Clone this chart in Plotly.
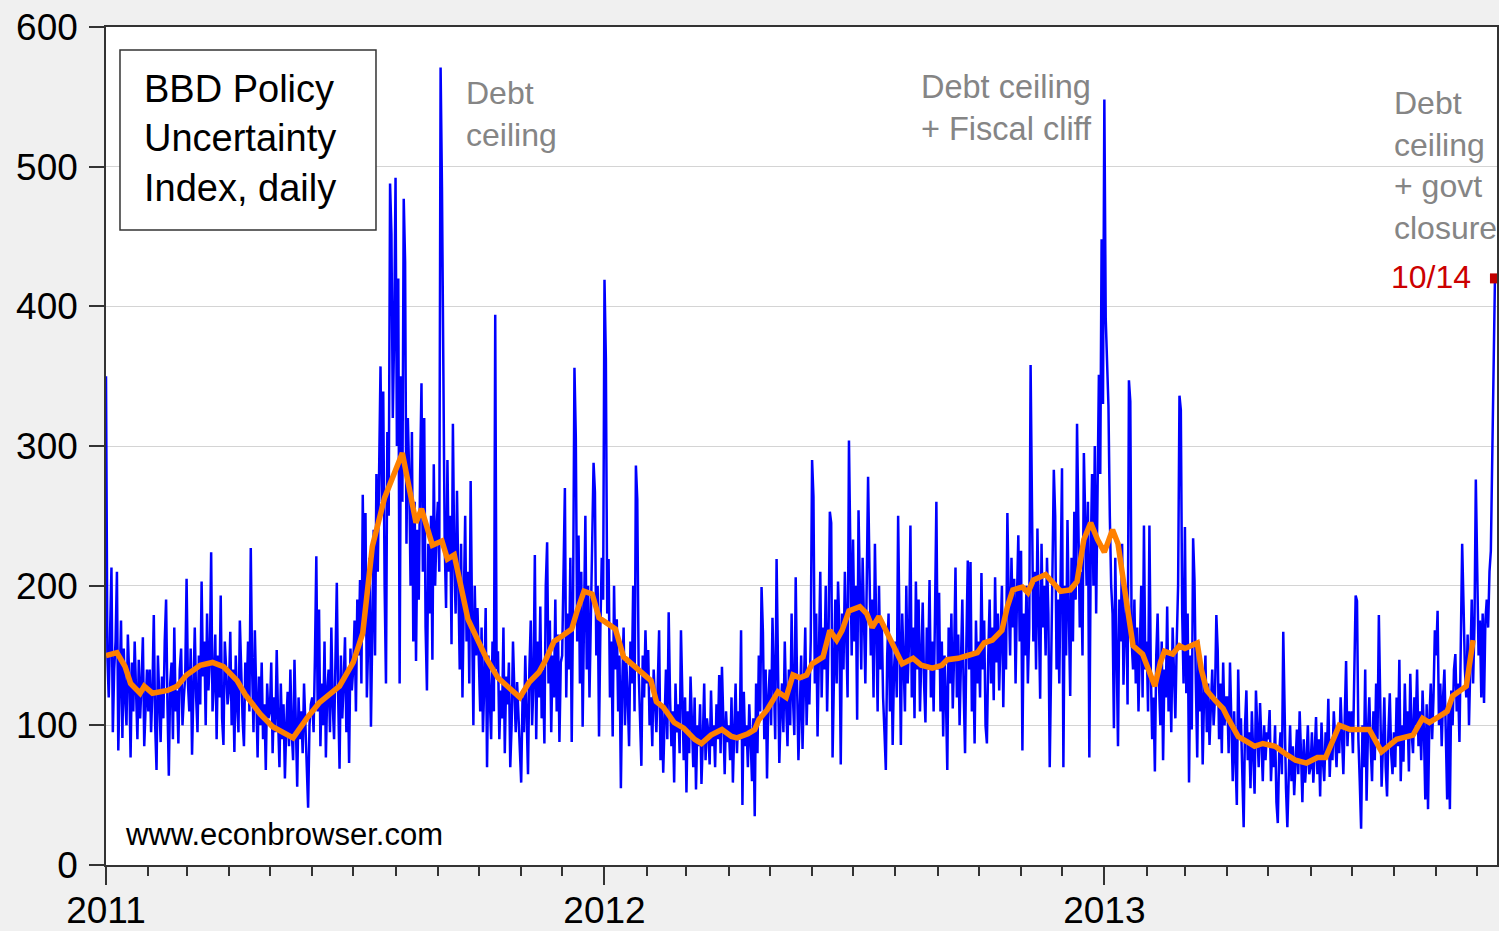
import pandas as pd
import plotly.graph_objects as go

# ---- Daily BBD policy uncertainty index ----
jan11 = [350, 150, 120, 180, 213, 95, 140, 160, 210, 82, 130, 175, 91, 155, 120, 100, 165, 135, 77, 145, 110, 160, 125, 90, 147, 105, 130, 163, 85, 120, 140]
feb11 = [110, 140, 95, 125, 179, 100, 68, 150, 120, 88, 135, 105, 160, 190, 115, 64, 130, 145, 90, 170, 110, 125, 87, 140, 155, 100, 120, 135]
mar11 = [205, 130, 110, 155, 79, 140, 170, 120, 95, 150, 115, 203, 135, 160, 100, 180, 125, 145, 224, 110, 130, 165, 90, 150, 120, 193, 105, 86, 160, 140, 115]
apr11 = [125, 167, 100, 140, 81, 150, 115, 95, 175, 130, 105, 85, 145, 120, 160, 110, 227, 140, 95, 168, 120, 77, 135, 100, 145, 90, 115, 68, 130, 105]
may11 = [110, 145, 80, 120, 95, 154, 105, 70, 130, 90, 115, 62, 100, 124, 85, 140, 95, 75, 147, 105, 56, 120, 90, 110, 80, 130, 95, 65, 41, 100, 115]
jun11 = [120, 95, 150, 221, 110, 183, 85, 130, 100, 160, 77, 125, 140, 95, 170, 115, 90, 135, 202, 120, 69, 150, 105, 130, 163, 95, 140, 73, 155, 125]
jul11 = [140, 175, 110, 190, 150, 204, 130, 265, 180, 252, 120, 160, 220, 99, 195, 240, 150, 280, 210, 302, 357, 260, 339, 200, 130, 310, 250, 488, 452, 320, 380]
aug11 = [492, 300, 420, 130, 350, 260, 477, 432, 230, 320, 280, 200, 310, 160, 260, 146, 240, 190, 280, 345, 210, 320, 170, 125, 230, 180, 250, 147, 287, 200, 240]
sep11 = [260, 210, 571, 485, 318, 230, 184, 290, 210, 250, 158, 316, 220, 180, 268, 200, 140, 230, 120, 190, 250, 160, 210, 130, 275, 180, 100, 200, 150, 184]
oct11 = [146, 110, 170, 95, 130, 184, 70, 150, 120, 90, 160, 110, 394, 140, 153, 90, 125, 105, 170, 80, 135, 115, 145, 70, 100, 160, 125, 95, 131, 110, 85]
nov11 = [59, 120, 95, 150, 110, 65, 140, 175, 100, 130, 222, 90, 160, 120, 185, 105, 140, 87, 200, 231, 130, 175, 95, 150, 120, 190, 110, 165, 88, 145]
dec11 = [150, 200, 270, 120, 180, 140, 220, 88, 190, 356, 306, 160, 236, 130, 210, 99, 175, 250, 140, 200, 120, 180, 230, 288, 267, 150, 200, 92, 170, 220, 190]
jan12 = [419, 363, 180, 219, 120, 160, 92, 200, 140, 176, 110, 150, 55, 130, 170, 100, 145, 120, 85, 160, 130, 200, 110, 286, 262, 140, 95, 71, 150, 120, 168]
feb12 = [130, 154, 100, 120, 85, 140, 110, 95, 130, 168, 75, 115, 66, 100, 140, 90, 181, 120, 85, 110, 59, 130, 95, 115, 80, 168, 105, 75, 120]
mar12 = [52, 110, 80, 135, 95, 70, 120, 54, 100, 85, 115, 58, 90, 130, 75, 105, 95, 72, 125, 85, 100, 70, 115, 90, 136, 80, 142, 95, 65, 110, 88]
apr12 = [100, 75, 120, 59, 95, 130, 80, 110, 90, 168, 43, 124, 85, 100, 70, 115, 90, 60, 105, 35, 130, 80, 150, 110, 199, 167, 90, 140, 62, 120]
may12 = [140, 100, 177, 120, 90, 219, 150, 73, 110, 130, 95, 160, 115, 85, 140, 100, 180, 120, 93, 206, 130, 75, 110, 150, 83, 125, 170, 100, 140, 115, 160]
jun12 = [290, 264, 130, 180, 92, 150, 210, 120, 170, 140, 200, 110, 160, 253, 245, 77, 150, 190, 130, 203, 170, 72, 180, 140, 210, 160, 120, 304, 230, 150]
jul12 = [233, 160, 200, 104, 254, 180, 140, 220, 170, 130, 200, 278, 213, 150, 190, 120, 230, 160, 110, 200, 140, 175, 120, 95, 68, 150, 180, 110, 160, 86, 140]
aug12 = [160, 120, 250, 140, 86, 180, 150, 110, 200, 130, 160, 243, 120, 170, 105, 203, 140, 190, 110, 150, 188, 130, 102, 170, 140, 204, 120, 160, 110, 180, 260]
sep12 = [140, 195, 110, 160, 92, 150, 120, 68, 170, 130, 180, 112, 150, 213, 120, 165, 100, 145, 190, 125, 80, 160, 218, 140, 217, 110, 150, 87, 175, 130]
oct12 = [160, 120, 209, 140, 175, 100, 87, 150, 190, 130, 170, 118, 206, 145, 180, 125, 160, 200, 113, 175, 140, 252, 190, 150, 220, 170, 205, 130, 190, 236, 160]
nov12 = [225, 82, 180, 150, 200, 130, 170, 358, 278, 160, 210, 140, 241, 190, 119, 230, 170, 200, 150, 220, 180, 70, 160, 210, 283, 250, 140, 190, 130, 200]
dec12 = [284, 70, 200, 150, 247, 180, 121, 220, 160, 253, 190, 316, 230, 170, 210, 150, 295, 240, 200, 260, 77, 220, 280, 200, 300, 180, 250, 351, 280, 448, 330]
jan13 = [548, 391, 365, 329, 250, 200, 180, 98, 220, 150, 85, 190, 160, 230, 129, 170, 200, 115, 347, 332, 160, 140, 190, 130, 170, 110, 150, 200, 120, 243, 140]
feb13 = [160, 110, 243, 140, 90, 120, 67, 150, 180, 130, 100, 160, 75, 140, 120, 185, 110, 150, 95, 170, 130, 105, 160, 200, 336, 326, 180, 130]
mar13 = [242, 123, 180, 59, 150, 97, 234, 204, 130, 77, 160, 110, 140, 72, 120, 150, 95, 130, 86, 110, 140, 100, 120, 179, 154, 90, 130, 80, 145, 100, 120]
apr13 = [120, 80, 145, 95, 60, 110, 70, 43, 140, 90, 105, 65, 27, 100, 125, 75, 95, 55, 110, 80, 51, 125, 90, 70, 116, 85, 60, 100, 75, 95]
may13 = [90, 111, 60, 85, 70, 100, 45, 30, 80, 95, 65, 167, 90, 55, 27, 75, 100, 60, 85, 50, 70, 97, 65, 110, 80, 45, 90, 59, 75, 100, 65]
jun13 = [70, 95, 59, 80, 106, 65, 90, 49, 102, 75, 60, 95, 80, 119, 63, 90, 75, 110, 85, 70, 100, 80, 120, 90, 65, 105, 146, 85, 110, 95]
jul13 = [110, 80, 130, 193, 189, 90, 60, 26, 100, 70, 140, 46, 95, 120, 85, 60, 110, 75, 130, 90, 179, 100, 56, 85, 120, 70, 49, 95, 123, 80, 65]
aug13 = [95, 70, 120, 85, 147, 60, 100, 74, 130, 90, 110, 67, 137, 95, 80, 120, 100, 140, 85, 110, 75, 125, 95, 47, 115, 40, 105, 130, 90, 120, 168]
sep13 = [150, 182, 100, 130, 85, 120, 140, 95, 47, 110, 40, 125, 100, 140, 151, 110, 130, 88, 160, 230, 186, 140, 120, 165, 100, 150, 190, 130, 172, 276]
oct13 = [200, 150, 175, 120, 180, 116, 175, 190, 170, 210, 225, 300, 347, 420]

month_starts = ["2011-01", "2011-02", "2011-03", "2011-04", "2011-05", "2011-06", "2011-07", "2011-08",
                "2011-09", "2011-10", "2011-11", "2011-12", "2012-01", "2012-02", "2012-03", "2012-04",
                "2012-05", "2012-06", "2012-07", "2012-08", "2012-09", "2012-10", "2012-11", "2012-12",
                "2013-01", "2013-02", "2013-03", "2013-04", "2013-05", "2013-06", "2013-07", "2013-08",
                "2013-09", "2013-10"]
month_values = [jan11, feb11, mar11, apr11, may11, jun11, jul11, aug11, sep11, oct11, nov11, dec11,
                jan12, feb12, mar12, apr12, may12, jun12, jul12, aug12, sep12, oct12, nov12, dec12,
                jan13, feb13, mar13, apr13, may13, jun13, jul13, aug13, sep13, oct13]

# ---- smoothed (moving-average) line ----
orange_dates = [
    "2011-01-01", "2011-01-09", "2011-01-15", "2011-01-19", "2011-01-26", "2011-01-29", "2011-02-04",
    "2011-02-15", "2011-02-22", "2011-03-01", "2011-03-11", "2011-03-20", "2011-03-28", "2011-04-07",
    "2011-04-13", "2011-04-24", "2011-05-03", "2011-05-18", "2011-05-28", "2011-06-06", "2011-06-21",
    "2011-07-01", "2011-07-08", "2011-07-15", "2011-07-24", "2011-08-06", "2011-08-16", "2011-08-20",
    "2011-08-28", "2011-09-04", "2011-09-08", "2011-09-13", "2011-09-23", "2011-10-07", "2011-10-15",
    "2011-10-27", "2011-10-31", "2011-11-07", "2011-11-14", "2011-11-19", "2011-11-25", "2011-12-01",
    "2011-12-08", "2011-12-12", "2011-12-17", "2011-12-23", "2011-12-28",
    "2012-01-03", "2012-01-09", "2012-01-15", "2012-01-24", "2012-01-30", "2012-02-04", "2012-02-08",
    "2012-02-13", "2012-02-21", "2012-02-28", "2012-03-07", "2012-03-12", "2012-03-19", "2012-03-27",
    "2012-04-03", "2012-04-07", "2012-04-15", "2012-04-20", "2012-04-23", "2012-04-29", "2012-05-07",
    "2012-05-13", "2012-05-18", "2012-05-23", "2012-05-28", "2012-06-01", "2012-06-09", "2012-06-14",
    "2012-06-19", "2012-06-23", "2012-06-28", "2012-07-06", "2012-07-11", "2012-07-15", "2012-07-20",
    "2012-07-26", "2012-08-01", "2012-08-06", "2012-08-14", "2012-08-20", "2012-08-28", "2012-09-04",
    "2012-09-08", "2012-09-16", "2012-09-23", "2012-09-30", "2012-10-05", "2012-10-11", "2012-10-18",
    "2012-10-22", "2012-10-26", "2012-11-02", "2012-11-06", "2012-11-10", "2012-11-19", "2012-11-24",
    "2012-11-30", "2012-12-07", "2012-12-12", "2012-12-17", "2012-12-22", "2012-12-27",
    "2013-01-01", "2013-01-07", "2013-01-11", "2013-01-15", "2013-01-18", "2013-01-22", "2013-01-29",
    "2013-02-03", "2013-02-07", "2013-02-11", "2013-02-14", "2013-02-20", "2013-02-25", "2013-03-01",
    "2013-03-10", "2013-03-13", "2013-03-17", "2013-03-23", "2013-03-29", "2013-04-01", "2013-04-09",
    "2013-04-16", "2013-04-21", "2013-04-27", "2013-05-06", "2013-05-13", "2013-05-21", "2013-05-29",
    "2013-06-06", "2013-06-12", "2013-06-15", "2013-06-22", "2013-06-30", "2013-07-14", "2013-07-23",
    "2013-08-03", "2013-08-15", "2013-08-22", "2013-08-27", "2013-09-09", "2013-09-13", "2013-09-23",
    "2013-09-28"]
orange_values = [
    150, 152, 142, 130, 123, 128, 123,
    125, 128, 136, 143, 145, 142, 132,
    122, 108, 99, 91, 105, 116, 128,
    145, 166, 228, 263, 295, 245, 255,
    229, 232, 219, 222, 176, 147, 134,
    124, 120, 131, 138, 147, 160, 164,
    169, 182, 196, 194, 177,
    173, 169, 149, 141, 136, 132, 117,
    113, 102, 98, 90, 87, 93, 97,
    92, 91, 94, 97, 104, 111, 124,
    120, 136, 134, 136, 144, 149, 168,
    161, 168, 182, 185, 180, 170, 178,
    166, 152, 144, 148, 143, 141, 143,
    147, 148, 150, 152, 159, 161, 168,
    185, 197, 199, 195, 204, 208, 202,
    196, 197, 203, 233, 245, 233,
    224, 240, 230, 203, 180, 157, 151,
    138, 128, 145, 153, 151, 157, 155,
    159, 140, 125, 118, 112, 106, 92,
    88, 85, 87, 85, 80, 75, 73,
    77, 77, 84, 100, 97, 97, 81,
    90, 93, 105, 102, 110, 121, 128,
    161]

y_ticks = [0, 100, 200, 300, 400, 500, 600]
year_ticks = ["2011-01-01", "2012-01-01", "2013-01-01"]
year_labels = ["2011", "2012", "2013"]

# build the daily series (one value per calendar day)
blue_x, blue_y = [], []
for start, vals in zip(month_starts, month_values):
    d0 = pd.Timestamp(start + "-01")
    for i, v in enumerate(vals):
        blue_x.append(d0 + pd.Timedelta(days=i))
        blue_y.append(v)

FONT = "Arial, Liberation Sans, sans-serif"

fig = go.Figure()
fig.add_trace(go.Scatter(x=blue_x, y=blue_y, mode="lines",
                         line=dict(color="#0000ff", width=2.5), hoverinfo="skip"))
fig.add_trace(go.Scatter(x=pd.to_datetime(orange_dates), y=orange_values, mode="lines",
                         line=dict(color="#ff8000", width=5.5), hoverinfo="skip"))
fig.add_trace(go.Scatter(x=[blue_x[-1]], y=[blue_y[-1]], mode="markers",
                         marker=dict(symbol="square", size=10, color="#c00000"), hoverinfo="skip"))

fig.update_layout(
    width=1499, height=931,
    margin=dict(l=106, r=2, t=27, b=66, pad=0),
    paper_bgcolor="#f0f0f0", plot_bgcolor="#ffffff",
    showlegend=False,
    font=dict(family=FONT, color="#000000"),
    xaxis=dict(
        type="date", range=["2011-01-01", "2013-10-15 12:00"],
        tickmode="array", tickvals=year_ticks, ticktext=year_labels,
        ticks="outside", ticklen=18, tickwidth=1.5, tickcolor="#333333",
        showline=True, linecolor="#333333", linewidth=1.5, mirror=True,
        showgrid=False, zeroline=False, automargin=False,
        tickfont=dict(size=37, family=FONT, color="#000000"),
        ticklabelstandoff=-6,
        minor=dict(ticks="outside", ticklen=9, tickwidth=1.5, tickcolor="#333333",
                   dtick="M1", tick0="2011-01-01", showgrid=False),
    ),
    yaxis=dict(
        range=[0, 600], tickmode="array", tickvals=y_ticks,
        ticks="outside", ticklen=15, tickwidth=1.5, tickcolor="#333333",
        showline=True, linecolor="#333333", linewidth=1.5, mirror=True,
        showgrid=True, gridcolor="#d4d4d4", gridwidth=1, zeroline=False,
        automargin=False,
        tickfont=dict(size=37, family=FONT, color="#000000"),
        ticklabelstandoff=4,
    ),
    shapes=[dict(type="rect", xref="paper", yref="paper",
                 x0=0.01006, x1=0.1941, y0=0.7578, y1=0.9726,
                 line=dict(color="#333333", width=1.5), fillcolor="#ffffff", layer="above")],
    annotations=[
        dict(xref="paper", yref="paper", x=0.0259, y=0.8664, xanchor="left", yanchor="middle",
             align="left", showarrow=False,
             text="BBD Policy<br>Uncertainty<br>Index, daily",
             font=dict(size=38, family=FONT, color="#000000")),
        dict(xref="paper", yref="paper", x=0.2575, y=0.8962, xanchor="left", yanchor="middle",
             align="left", showarrow=False, text="Debt<br>ceiling",
             font=dict(size=32, family=FONT, color="#858585")),
        dict(xref="paper", yref="paper", x=0.5845, y=0.9039, xanchor="left", yanchor="middle",
             align="left", showarrow=False, text="Debt ceiling<br>+ Fiscal cliff",
             font=dict(size=32.5, family=FONT, color="#858585")),
        dict(xref="paper", yref="paper", x=0.9245, y=0.8353, xanchor="left", yanchor="middle",
             align="left", showarrow=False, text="Debt<br>ceiling<br>+ govt<br>closure",
             font=dict(size=32, family=FONT, color="#858585")),
        dict(xref="paper", yref="paper", x=0.9225, y=0.7017, xanchor="left", yanchor="middle",
             align="left", showarrow=False, text="10/14",
             font=dict(size=32, family=FONT, color="#cc0000")),
        dict(xref="paper", yref="paper", x=0.0122, y=0.0358, xanchor="left", yanchor="middle",
             align="left", showarrow=False, text="www.econbrowser.com",
             font=dict(size=31, family=FONT, color="#000000")),
    ],
)

fig.write_html("out.html", config={"displayModeBar": False},
               post_script="document.body.style.margin='0';")
